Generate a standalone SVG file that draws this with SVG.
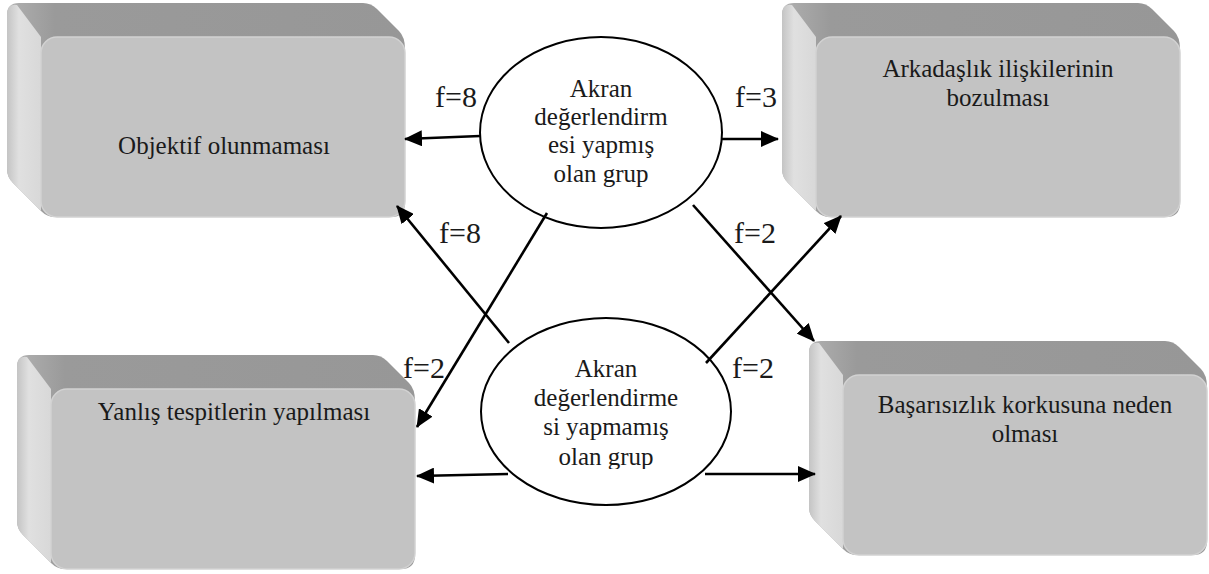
<svg xmlns="http://www.w3.org/2000/svg" width="1209" height="574" viewBox="0 0 1209 574" font-family="Liberation Serif, DejaVu Serif, serif">
  <style>
    .txt { font-size: 25px; text-anchor: middle; fill: #1a1a1a; }
    .lbl { font-size: 30px; fill: #1a1a1a; }
    .oval { fill: #ffffff; stroke: #000000; stroke-width: 2; }
    .edge { fill: none; stroke: #000000; stroke-width: 2.6; marker-end: url(#arrow); }
  </style>
  <defs>
    <marker id="arrow" markerUnits="userSpaceOnUse" markerWidth="18" markerHeight="16" viewBox="0 0 18 16" refX="17" refY="8" orient="auto">
      <path d="M0,0 L18,8 L0,16 Z" fill="#000000"/>
    </marker>
    <linearGradient id="sideFace" x1="0" y1="0" x2="1" y2="0">
      <stop offset="0" stop-color="#c4c4c4"/>
      <stop offset="0.35" stop-color="#e0e0e0"/>
      <stop offset="1" stop-color="#d8d8d8"/>
    </linearGradient>
    <linearGradient id="topFace" x1="0" y1="0" x2="1" y2="0">
      <stop offset="0" stop-color="#b0b0b0"/>
      <stop offset="0.12" stop-color="#9a9a9a"/>
      <stop offset="1" stop-color="#979797"/>
    </linearGradient>
    <!-- bevelled box: front face at (34,34) 364x180, depth 34 -->
    <symbol id="bevelBox" overflow="visible">
      <path d="M12,0 L356,0 Q364,0 370,6 L392,28 Q398,34 398,46 L398,200 Q398,214 384,214 L48,214 Q40,214 34,208 L6,180 Q0,174 0,166 L0,12 Q0,0 12,0 Z" fill="url(#topFace)"/>
      <path d="M0,12 Q0,0 10,2 L34,34 L34,208 L6,180 Q0,174 0,166 Z" fill="url(#sideFace)"/>
      <rect x="34" y="34" width="364" height="180" rx="16" fill="#c3c3c3" stroke="#d2d2d2" stroke-width="1.5"/>
    </symbol>
    <clipPath id="ovalTextClip">
      <rect x="480" y="340" width="260" height="129"/>
    </clipPath>
  </defs>

  <g id="node-objektif">
    <use href="#bevelBox" x="7" y="3"/>
    <text class="txt" x="224" y="154" font-family="Liberation Serif, serif">Objektif olunmaması</text>
  </g>

  <g id="node-arkadaslik" font-family="Liberation Serif, serif">
    <use href="#bevelBox" x="782" y="3"/>
    <text class="txt" x="998" y="77">Arkadaşlık ilişkilerinin</text>
    <text class="txt" x="998" y="106">bozulması</text>
  </g>

  <g id="node-yanlis" font-family="Liberation Serif, serif">
    <use href="#bevelBox" x="17" y="355"/>
    <text class="txt" x="234" y="420">Yanlış tespitlerin yapılması</text>
  </g>

  <g id="node-basarisizlik" font-family="Liberation Serif, serif">
    <use href="#bevelBox" x="809" y="341"/>
    <text class="txt" x="1025" y="413">Başarısızlık korkusuna neden</text>
    <text class="txt" x="1025" y="442">olması</text>
  </g>

  <g id="node-yapmis" font-family="Liberation Serif, serif">
    <ellipse class="oval" cx="601" cy="132.5" rx="121" ry="95.5"/>
    <text class="txt" x="601" y="97">Akran</text>
    <text class="txt" x="601" y="125">değerlendirm</text>
    <text class="txt" x="601" y="153">esi yapmış</text>
    <text class="txt" x="601" y="182">olan grup</text>
  </g>

  <g id="node-yapmamis" font-family="Liberation Serif, serif">
    <ellipse class="oval" cx="606" cy="411.5" rx="125" ry="93.5"/>
    <g clip-path="url(#ovalTextClip)">
      <text class="txt" x="606" y="377">Akran</text>
      <text class="txt" x="606" y="406">değerlendirme</text>
      <text class="txt" x="606" y="435">si yapmamış</text>
      <text class="txt" x="606" y="465">olan grup</text>
    </g>
  </g>

  <g id="connectors">
    <line class="edge" x1="480" y1="136" x2="405" y2="139"/>
    <line class="edge" x1="722" y1="139" x2="778" y2="139"/>
    <line class="edge" x1="509" y1="343" x2="397" y2="206"/>
    <line class="edge" x1="547" y1="213" x2="417" y2="427"/>
    <line class="edge" x1="693" y1="205" x2="814" y2="341"/>
    <line class="edge" x1="706" y1="363" x2="841" y2="216"/>
    <line class="edge" x1="508" y1="474" x2="417" y2="476"/>
    <line class="edge" x1="705" y1="474" x2="815" y2="474"/>
  </g>

  <g id="labels" font-family="Liberation Serif, serif">
    <text class="lbl" x="435" y="107">f=8</text>
    <text class="lbl" x="735" y="107">f=3</text>
    <text class="lbl" x="439" y="243">f=8</text>
    <text class="lbl" x="734" y="243">f=2</text>
    <text class="lbl" x="403" y="378">f=2</text>
    <text class="lbl" x="732" y="378">f=2</text>
  </g>
</svg>
